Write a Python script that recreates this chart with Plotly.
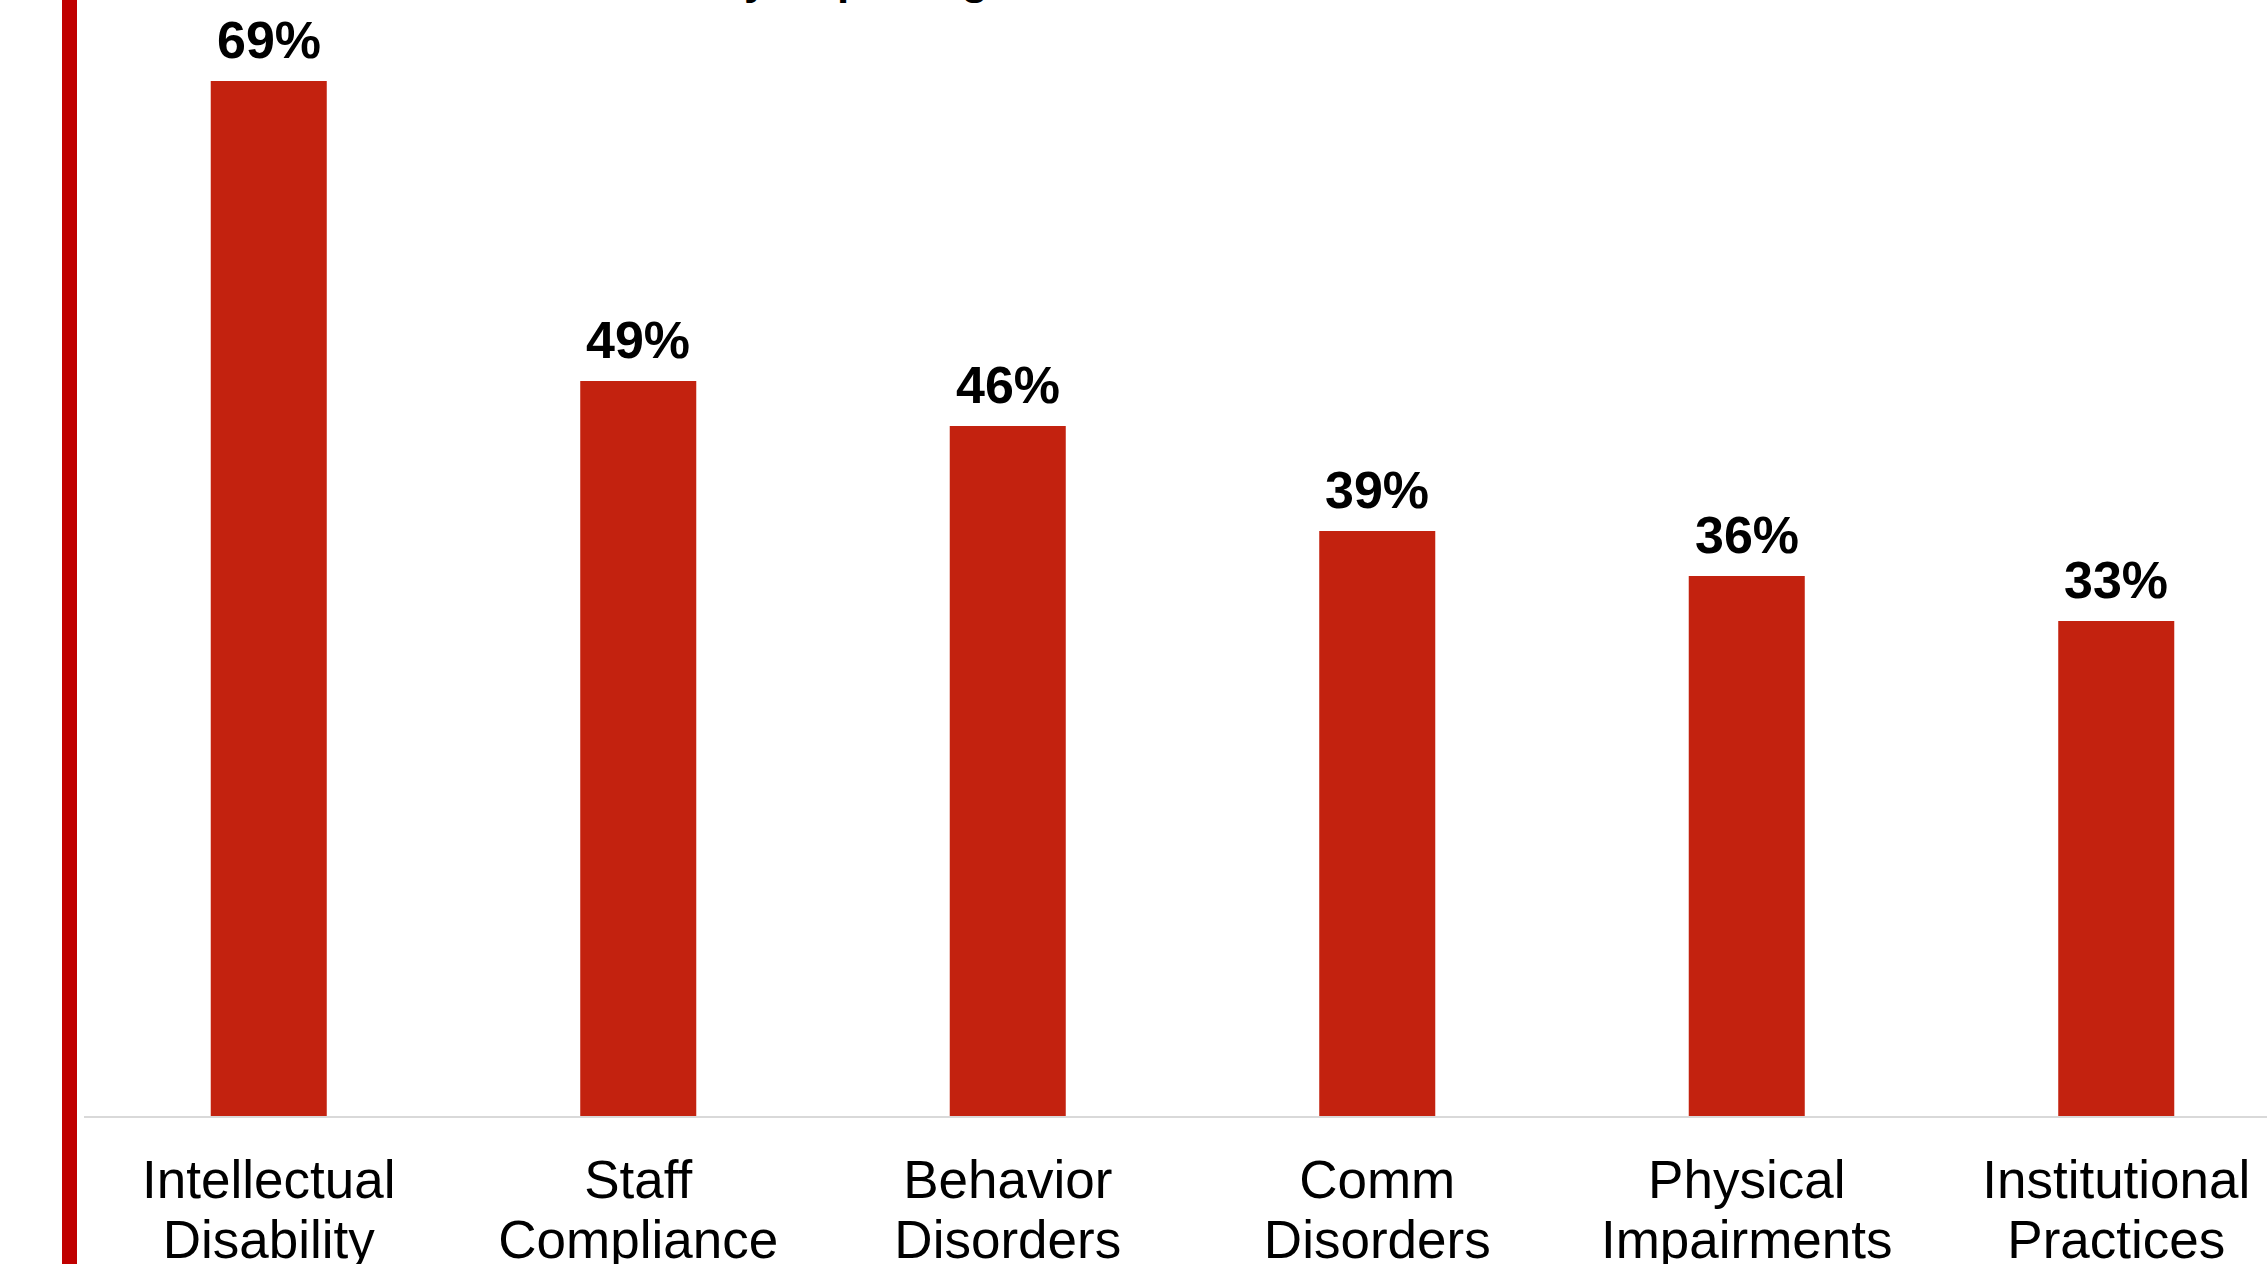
import plotly.graph_objects as go

categories = ["Intellectual Disability", "Staff Compliance", "Behavior Disorders",
              "Comm Disorders", "Physical Impairments", "Institutional Practices"]
values = [69, 49, 46, 39, 36, 33]
value_labels = [f"{v}%" for v in values]
line1 = [c.split(" ", 1)[0] for c in categories]
line2 = [c.split(" ", 1)[1] for c in categories]
title_text = "Risk Factors Identified by Reporting"

FONT = "Arial, Liberation Sans, sans-serif"
BAR_COLOR = "#C3220F"

W, H = 2267, 1264
ML, MB = 84, 148
PW = W - ML

fig = go.Figure()
fig.add_trace(go.Bar(x=categories, y=values, marker=dict(color=BAR_COLOR, line=dict(width=0)),
                     hoverinfo="skip", showlegend=False))
# invisible trace for second label row axis
fig.add_trace(go.Scatter(x=categories, y=values, xaxis="x2", mode="markers",
                         marker=dict(opacity=0), hoverinfo="skip", showlegend=False))

for c, v, t in zip(categories, values, value_labels):
    fig.add_annotation(x=c, y=v, xref="x", yref="y", text=f"<b>{t}</b>", showarrow=False,
                       yanchor="bottom", yshift=10,
                       font=dict(family=FONT, size=52, color="black"))

fig.add_annotation(x=(990 - ML) / PW, y=1, xref="paper", yref="paper", text=f"<b>{title_text}</b>",
                   showarrow=False, xanchor="right", yanchor="bottom", yshift=-5,
                   font=dict(family=FONT, size=44, color="black"))

fig.add_shape(type="rect", xref="paper", yref="paper",
              x0=(62 - ML) / PW, x1=(77 - ML) / PW, y0=-MB / (H - MB) - 0.02, y1=1.02,
              fillcolor="#C00000", line=dict(width=0), layer="above")

xr = [-0.5, -0.5 + PW / 369.5]
fig.update_layout(
    width=W, height=H,
    margin=dict(l=ML, r=0, t=0, b=MB, pad=0, autoexpand=False),
    paper_bgcolor="white", plot_bgcolor="white",
    bargap=0.686,
    xaxis=dict(type="category", categoryorder="array", categoryarray=categories,
               range=xr, tickvals=categories, ticktext=line1, ticks="", automargin=False,
               showline=True, linecolor="#D9D9D9", linewidth=2, showgrid=False,
               ticklabelstandoff=16,
               tickfont=dict(family=FONT, size=53, color="black"), fixedrange=True),
    xaxis2=dict(type="category", categoryorder="array", categoryarray=categories,
                range=xr, tickvals=categories, ticktext=line2, ticks="", automargin=False,
                overlaying="x", side="bottom", anchor="y", showline=False, showgrid=False,
                ticklabelstandoff=88,
                tickfont=dict(family=FONT, size=53, color="black"), fixedrange=True),
    yaxis=dict(range=[0, (H - MB) / 15], visible=False, fixedrange=True, automargin=False),
)

fig.write_html("out.html", config={"displayModeBar": False},
               post_script="document.body.style.margin='0';document.body.style.overflow='hidden';")
